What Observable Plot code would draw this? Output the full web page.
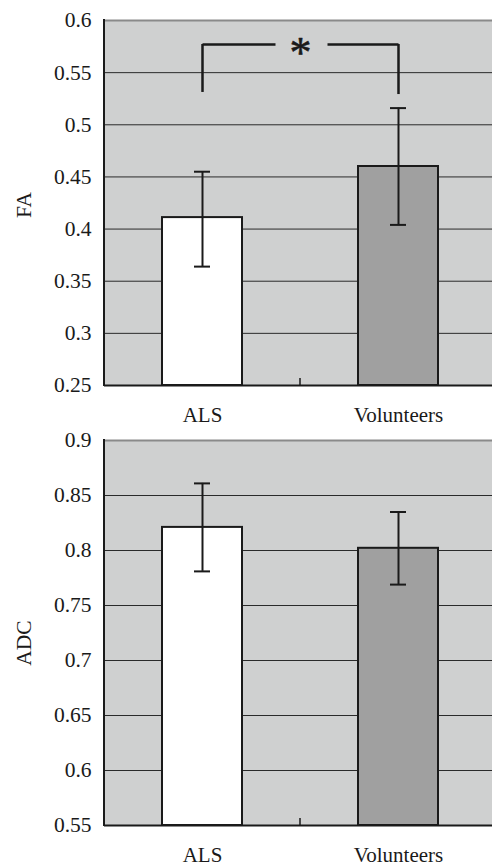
<!DOCTYPE html>
<html><head><meta charset="utf-8">
<script src="https://cdn.jsdelivr.net/npm/d3@7"></script>
<script src="https://cdn.jsdelivr.net/npm/@observablehq/plot@0.6"></script>
<style>
body{margin:0;background:#fff;}
#chart{width:492px;overflow:hidden;}
#chart svg{display:block;background:#fff;}
</style></head><body><div id="chart"></div>
<script>
const groups = ["ALS", "Volunteers"];
const faMean = [0.411, 0.460];
const faLow = [0.364, 0.404];
const faHigh = [0.455, 0.516];
const adcMean = [0.821, 0.802];
const adcLow = [0.781, 0.769];
const adcHigh = [0.861, 0.835];
const faTicks = [0.25, 0.3, 0.35, 0.4, 0.45, 0.5, 0.55, 0.6];
const faTickLabels = ["0.25", "0.3", "0.35", "0.4", "0.45", "0.5", "0.55", "0.6"];
const adcTicks = [0.55, 0.6, 0.65, 0.7, 0.75, 0.8, 0.85, 0.9];
const adcTickLabels = ["0.55", "0.6", "0.65", "0.7", "0.75", "0.8", "0.85", "0.9"];
const barFills = ["#ffffff", "#a0a0a0"];
const sigFrom = "ALS", sigTo = "Volunteers";
const sigTop = 0.577, sigLeftEnd = 0.531, sigRightEnd = 0.529, sigLabel = "*";

const FONT = "Liberation Serif";
const INK = "#1a1a1a";

function panel({label, mean, low, high, ticks, tickLabels, height, marginTop, marginBottom, labelDy, extra}) {
  const rows = groups.map((g, i) => ({g, mean: mean[i], low: low[i], high: high[i], fill: barFills[i]}));
  const tickRows = ticks.map((t, i) => ({t, s: tickLabels[i]}));
  const yMin = ticks[0], yMax = ticks[ticks.length - 1];
  const frameLines = (index, scales, values, dims) => {
    const x = scales.x, y = scales.y;
    const bw = x.bandwidth ? x.bandwidth() : 0;
    const g = d3.create("svg:g");
    const y0 = y(yMin), y1 = y(yMax);
    g.append("line").attr("x1", dims.marginLeft).attr("x2", dims.marginLeft)
      .attr("y1", y0 + 1).attr("y2", y1 - 1).attr("stroke", INK).attr("stroke-width", 2);
    const xm = (x(groups[0]) + x(groups[1]) + bw) / 2;
    g.append("line").attr("x1", xm).attr("x2", xm).attr("y1", y0).attr("y2", y0 - 7)
      .attr("stroke", INK).attr("stroke-width", 1.5);
    return g.node();
  };
  return Plot.plot({
    width: 492,
    height,
    marginLeft: 104,
    marginRight: -4,
    marginTop,
    marginBottom,
    style: {fontFamily: FONT, fontSize: "21px", color: INK, background: "#fff"},
    x: {domain: groups, paddingInner: 0.59, paddingOuter: 0.295, axis: null},
    y: {domain: [yMin, yMax], axis: null},
    color: {type: "identity"},
    marks: [
      Plot.frame({fill: "#cfd0d0", stroke: null}),
      Plot.ruleY(ticks.slice(0, -1), {stroke: "#2a2a2a", strokeWidth: 1}),
      Plot.ruleY([yMax], {stroke: "#8a8a8a", strokeWidth: 2}),
      Plot.barY(rows, {x: "g", y1: yMin, y2: "mean", fill: "fill", stroke: INK, strokeWidth: 2}),
      Plot.ruleX(rows, {x: "g", y1: "low", y2: "high", stroke: INK, strokeWidth: 2}),
      Plot.tickY(rows, {x: "g", y: "low", stroke: INK, strokeWidth: 2, insetLeft: 32, insetRight: 32}),
      Plot.tickY(rows, {x: "g", y: "high", stroke: INK, strokeWidth: 2, insetLeft: 32, insetRight: 32}),
      Plot.ruleY([yMin], {stroke: INK, strokeWidth: 2}),
      frameLines,
      Plot.text(tickRows, {y: "t", text: "s", frameAnchor: "left", textAnchor: "end", lineAnchor: "middle",
        dx: -13, fontSize: 21.5, fontFamily: FONT, fill: INK}),
      Plot.text(groups, {x: d => d, text: d => d, frameAnchor: "bottom", lineAnchor: "top",
        dy: 22, fontSize: 21, fontFamily: FONT, fill: INK}),
      ...(extra || []),
      Plot.text([label], {text: d => d, frameAnchor: "left", textAnchor: "middle", lineAnchor: "middle",
        rotate: -90, dx: -80, dy: labelDy, fontSize: 21.5, fontFamily: FONT, fill: INK})
    ]
  });
}

const bracket = [
  Plot.ruleX([{g: sigFrom, a: sigLeftEnd, b: sigTop}, {g: sigTo, a: sigRightEnd, b: sigTop}],
    {x: "g", y1: "a", y2: "b", stroke: INK, strokeWidth: 2.5}),
  Plot.link([{a: sigFrom, b: sigTo, y: sigTop}], {x1: "a", x2: "b", y1: "y", y2: "y",
    stroke: INK, strokeWidth: 2.5, strokeDasharray: "73 52 300"}),
  Plot.text([sigLabel], {text: d => d, y: () => sigTop, frameAnchor: "middle", fontSize: 44, fontFamily: FONT,
    stroke: INK, strokeWidth: 0.6, dy: 8, fill: INK})
];

const faChart = panel({label: "FA", mean: faMean, low: faLow, high: faHigh, ticks: faTicks, tickLabels: faTickLabels,
  height: 427, marginTop: 20, marginBottom: 42, labelDy: 2, extra: bracket});
const adcChart = panel({label: "ADC", mean: adcMean, low: adcLow, high: adcHigh, ticks: adcTicks, tickLabels: adcTickLabels,
  height: 439, marginTop: 13, marginBottom: 41, labelDy: 10, extra: []});
const chartEl = document.getElementById("chart");
chartEl.appendChild(faChart);
chartEl.appendChild(adcChart);
</script></body></html>
